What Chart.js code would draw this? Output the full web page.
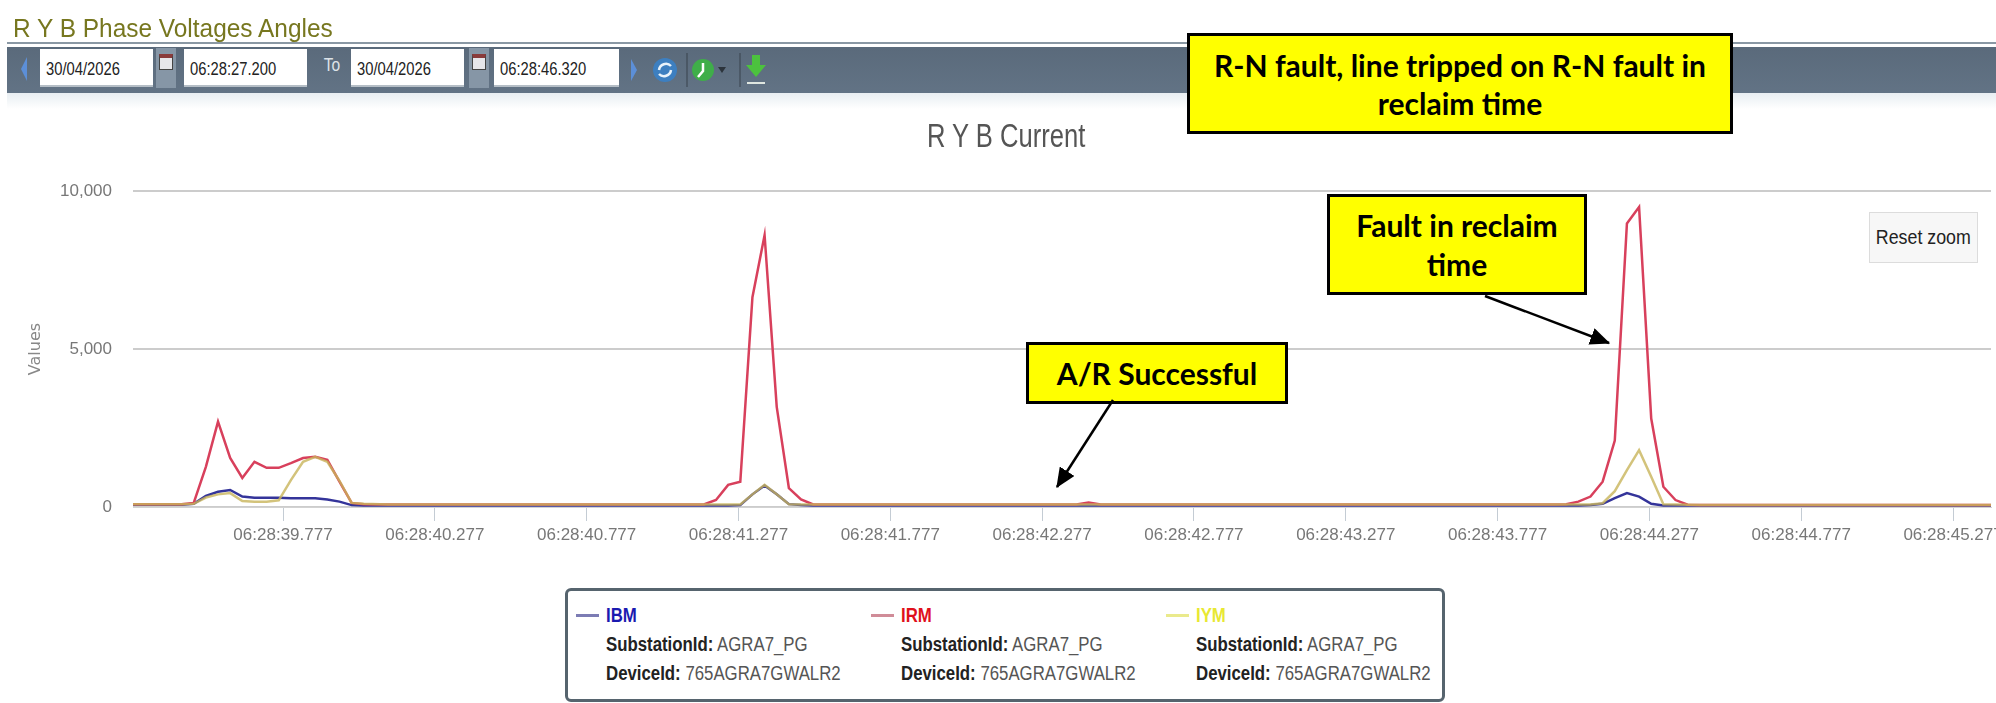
<!DOCTYPE html>
<html>
<head>
<meta charset="utf-8">
<title>R Y B Current</title>
<script src="https://cdn.jsdelivr.net/npm/chart.js@4"></script>
<style>
  html, body { margin: 0; padding: 0; background: #fff; overflow: hidden; }
  #page { position: relative; width: 1996px; height: 703px; overflow: hidden; font-family: 'Liberation Sans', sans-serif; }
  #wrap { position: absolute; left: 0; top: 0; width: 1996px; height: 703px; }
  .nr { display: inline-block; transform-origin: left center; transform: scaleX(.82); white-space: nowrap; }
  .heading { position: absolute; left: 13px; top: 12px; font-size: 26px; line-height: 32px; color: #77771f; transform-origin: left center; transform: scaleX(.94); white-space: nowrap; }
  .charttitle { position: absolute; left: 927px; top: 116px; font-size: 33px; line-height: 40px; color: #555; transform-origin: left center; transform: scaleX(.775); white-space: nowrap; }
  .rule { position: absolute; left: 7px; right: 0; top: 42px; height: 2px; background: #8a98a4; }
  .toolbar { position: absolute; left: 7px; right: 0; top: 47px; height: 46px; background: linear-gradient(#5a6a7b, #627385); }
  .glow { position: absolute; left: 7px; right: 0; top: 93px; height: 16px; background: linear-gradient(#e8eef2, #fff); }
  .field { position: absolute; top: 49px; height: 38px; line-height: 40px; background: #fff; color: #222; font-size: 18px; padding-left: 6px; box-sizing: border-box; border-bottom: 2px solid #b5bec6; }
  .cal { position: absolute; top: 48px; width: 20px; height: 40px; background: #8696a6; }
  .cal i { position: absolute; left: 3px; top: 6px; width: 14px; height: 16px; background: #e6e6ea; border: 1px solid #444; box-sizing: border-box; border-top: 4px solid #8a3b3b; }
  .to { position: absolute; left: 322px; top: 54px; color: #dde3e8; font-size: 19px; transform: scaleX(.82); }
  .icons { position: absolute; left: 0; top: 47px; }
  .box { position: absolute; background: #ff0; border: 3px solid #000; box-sizing: border-box; color: #000; font-family: Lato, sans-serif; font-weight: 700; text-align: center; display: flex; align-items: center; justify-content: center; }
  .reset { position: absolute; left: 1869px; top: 212px; width: 109px; height: 51px; background: #f7f7f7; border: 1px solid #dcdcdc; box-sizing: border-box; text-align: center; line-height: 49px; font-size: 20px; color: #222; }
  .reset span { display: inline-block; transform: scaleX(.89); white-space: nowrap; }
  #legend { position: absolute; left: 565px; top: 588px; width: 880px; height: 114px; border: 3px solid #56646e; border-radius: 6px; box-sizing: border-box; background: #fff; }
  .item { position: absolute; top: 0; font-size: 20px; line-height: 29px; color: #555; white-space: nowrap; }
  .item .sw { position: absolute; left: -30px; top: 23px; width: 23px; height: 3px; }
  .item div { transform-origin: left center; transform: scaleX(.84); }
  .item div.nm { padding-top: 10px; font-weight: 700; }
  .item b { color: #222; }
  svg.over { position: absolute; left: 0; top: 0; pointer-events: none; }
</style>
</head>
<body>
<div id="page">
  <div id="wrap"><canvas id="chart" width="1996" height="703"></canvas></div>

  <div class="heading">R Y B Phase Voltages Angles</div>
  <div class="charttitle" id="charttitle"></div>
  <div class="rule"></div>
  <div class="toolbar"></div>
  <div class="glow"></div>
  <div class="field" style="left:40px;width:113px"><span class="nr">30/04/2026</span></div>
  <div class="cal" style="left:156px"><i></i></div>
  <div class="field" style="left:184px;width:123px"><span class="nr">06:28:27.200</span></div>
  <div class="to">To</div>
  <div class="field" style="left:351px;width:113px"><span class="nr">30/04/2026</span></div>
  <div class="cal" style="left:469px"><i></i></div>
  <div class="field" style="left:494px;width:125px"><span class="nr">06:28:46.320</span></div>
  <svg class="icons" width="800" height="46">
    <path d="M27 10 L21 22 L27 34 Z" fill="#5c8fd8"/>
    <path d="M631 12 L637 23 L631 34 Z" fill="#5c8fd8"/>
    <circle cx="665" cy="23" r="12" fill="#3d7fc0"/>
    <path d="M659 23 a7 7 0 0 1 12 -4 M671 23 a7 7 0 0 1 -12 4" stroke="#e8f2fa" stroke-width="2.5" fill="none"/>
    <line x1="687" y1="6" x2="687" y2="40" stroke="#39434d"/>
    <circle cx="703" cy="23" r="11" fill="#3fae49"/>
    <path d="M703 16 L703 24 L698 30" stroke="#fff" stroke-width="2.5" fill="none"/>
    <path d="M718 20 L726 20 L722 26 Z" fill="#2c343c"/>
    <line x1="740" y1="6" x2="740" y2="40" stroke="#39434d"/>
    <path d="M752 8 L760 8 L760 18 L766 18 L756 30 L746 18 L752 18 Z" fill="#4cc23e"/>
    <line x1="747" y1="36" x2="765" y2="36" stroke="#dfe6e0" stroke-width="2"/>
  </svg>

  <div class="box" style="left:1187px;top:33px;width:546px;height:101px;font-size:30px;line-height:38px">R-N fault, line tripped on R-N fault in<br>reclaim time</div>
  <div class="box" style="left:1327px;top:194px;width:260px;height:101px;font-size:30px;line-height:39px">Fault in reclaim<br>time</div>
  <div class="box" style="left:1026px;top:342px;width:262px;height:62px;font-size:30px">A/R Successful</div>
  <div class="reset"><span>Reset zoom</span></div>

  <svg class="over" width="1996" height="703">
    <defs><marker id="head" markerWidth="8" markerHeight="7" refX="7.5" refY="3.5" orient="auto"><path d="M0 0 L8 3.5 L0 7 Z" fill="#000"/></marker></defs>
    <line x1="1485" y1="296" x2="1609" y2="343" stroke="#000" stroke-width="2.5" marker-end="url(#head)"/>
    <line x1="1113" y1="400" x2="1057" y2="487" stroke="#000" stroke-width="2.5" marker-end="url(#head)"/>
  </svg>

  <div id="legend"></div>
</div>

<script>
const title = 'R Y B Current';
const yTitle = 'Values';

// seconds within 06:28, sampled every 40 ms in the source
const times = [
  39.283, 39.443, 39.483, 39.523, 39.563, 39.603, 39.643, 39.683, 39.723, 39.763, 39.803, 39.843, 39.883, 39.923, 39.963, 40.003, 40.043, 40.123,
  41.163, 41.203, 41.243, 41.283, 41.323, 41.363, 41.403, 41.443, 41.483, 41.523,
  42.390, 42.430, 42.470,
  43.963, 44.003, 44.043, 44.083, 44.123, 44.163, 44.203, 44.243, 44.283, 44.323, 44.363, 44.403, 44.443, 45.402,
];
const irm = [
  90, 90, 130, 1270, 2700, 1550, 920, 1430, 1240, 1240, 1390, 1550, 1590, 1490, 800, 130, 90, 80,
  80, 220, 700, 800, 6640, 8600, 3170, 600, 240, 80,
  80, 140, 80,
  80, 90, 170, 330, 800, 2100, 8970, 9490, 2800, 640, 220, 70, 60, 60,
];
const ibm = [
  70, 70, 100, 350, 480, 540, 330, 290, 290, 290, 280, 280, 280, 240, 170, 60, 50, 50,
  50, 50, 50, 60, 400, 680, 400, 90, 60, 50,
  50, 50, 50,
  50, 50, 50, 60, 100, 280, 440, 330, 100, 50, 50, 50, 50, 50,
];
const iym = [
  90, 90, 100, 300, 400, 440, 190, 170, 170, 210, 850, 1430, 1590, 1430, 830, 130, 100, 80,
  80, 80, 80, 80, 400, 700, 400, 90, 80, 80,
  80, 80, 80,
  80, 80, 80, 80, 120, 500, 1170, 1800, 960, 90, 80, 70, 60, 60,
];

const tickTimes = [39.777, 40.277, 40.777, 41.277, 41.777, 42.277, 42.777, 43.277, 43.777, 44.277, 44.777, 45.277];
const tickLabels = ['06:28:39.777', '06:28:40.277', '06:28:40.777', '06:28:41.277', '06:28:41.777', '06:28:42.277', '06:28:42.777', '06:28:43.277', '06:28:43.777', '06:28:44.277', '06:28:44.777', '06:28:45.277'];

const seriesNames = ['IBM', 'IRM', 'IYM'];
const nameColors = ['#1a1ab0', '#e0101c', '#e8e832'];
const lineColors = ['#34349a', '#d8405c', 'rgba(200, 180, 90, 0.8)'];
const swatchColors = ['#7c7cb4', '#d08c98', '#eaea8c'];
const substationId = 'AGRA7_PG';
const deviceId = '765AGRA7GWALR2';
const legendLeft = [38, 333, 628];

const toPoints = (vals) => vals.map((y, i) => ({ x: times[i], y }));

function lineSet(label, vals, color) {
  return { label, data: toPoints(vals), borderColor: color, borderWidth: 2.5, pointRadius: 0, fill: false, tension: 0 };
}

document.getElementById('charttitle').textContent = title;

new Chart(document.getElementById('chart'), {
  type: 'line',
  data: {
    datasets: [
      // first in the list paints on top in chart.js
      lineSet(seriesNames[2], iym, lineColors[2]),
      lineSet(seriesNames[1], irm, lineColors[1]),
      lineSet(seriesNames[0], ibm, lineColors[0]),
    ],
  },
  options: {
    responsive: false,
    animation: false,
    layout: { padding: { top: 191, right: 5 } },
    plugins: {
      legend: { display: false },
      tooltip: { enabled: false },
      title: { display: false },
    },
    scales: {
      x: {
        type: 'linear',
        min: times[0],
        max: times[times.length - 1],
        afterBuildTicks: (scale) => { scale.ticks = tickTimes.map(value => ({ value })); },
        afterFit: (scale) => { scale.height = 196; scale.paddingLeft = 0; scale.paddingRight = 0; },
        grid: { drawOnChartArea: false, drawTicks: true, tickLength: 14, tickColor: '#c4ccd4' },
        border: { color: '#d2d2d2' },
        ticks: {
          autoSkip: false,
          maxRotation: 0,
          padding: 4,
          color: '#777',
          font: { family: 'Liberation Sans', size: 17 },
          callback: (v, i) => tickLabels[i],
        },
      },
      y: {
        min: 0,
        max: 10000,
        afterFit: (scale) => { scale.width = 133; },
        title: { display: true, text: yTitle, color: '#888', font: { family: 'DejaVu Sans', size: 16 }, padding: { top: 26, bottom: 0 } },
        grid: { color: '#cccccc', lineWidth: 2, drawTicks: false },
        border: { display: false },
        ticks: {
          stepSize: 5000,
          padding: 21,
          color: '#777',
          font: { family: 'Liberation Sans', size: 17 },
        },
      },
    },
  },
});

// legend box underneath, one column per series
const legend = document.getElementById('legend');
seriesNames.forEach((name, i) => {
  const el = document.createElement('div');
  el.className = 'item';
  el.style.left = legendLeft[i] + 'px';
  el.innerHTML = `<span class="sw" style="background:${swatchColors[i]}"></span>`
    + `<div class="nm" style="color:${nameColors[i]}">${name}</div>`
    + `<div><b>SubstationId:</b> ${substationId}</div>`
    + `<div><b>DeviceId:</b> ${deviceId}</div>`;
  legend.appendChild(el);
});
</script>
</body>
</html>
